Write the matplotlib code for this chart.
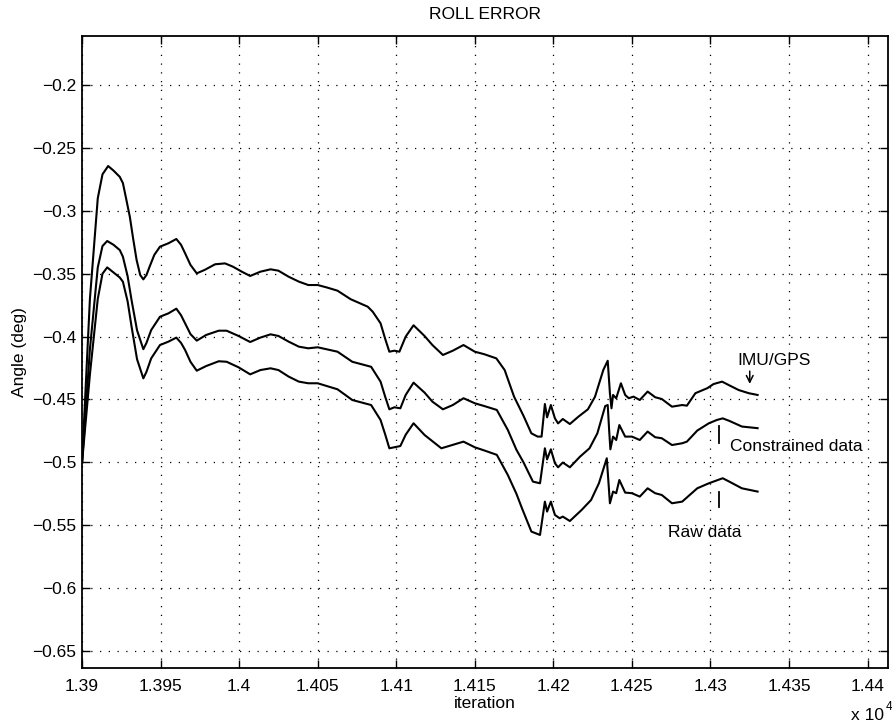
import matplotlib
matplotlib.use("Agg")
import matplotlib.pyplot as plt

plt.rcParams['font.family'] = ['Liberation Sans', 'DejaVu Sans']

# iteration numbers and roll error (deg) for the three solutions
it_imu = [13900, 13905, 13910, 13913, 13916.6, 13920, 13924, 13926, 13928, 13930.4,
          13932.5, 13934.7, 13937, 13939, 13941, 13943, 13946, 13949.6, 13955, 13960,
          13963, 13965.6, 13969, 13973, 13978, 13984.7, 13991, 13996, 14001.7, 14007,
          14013.5, 14020, 14025, 14031.5, 14038, 14044, 14050, 14056, 14062.6, 14071,
          14081.8, 14085, 14090, 14093, 14095.6, 14098.8, 14102, 14106, 14111, 14118,
          14123, 14129.7, 14136, 14142.8, 14150, 14156, 14163.7, 14169, 14175, 14181,
          14186, 14190, 14192.5, 14194.6, 14196, 14198.4, 14201, 14203, 14206, 14210.5,
          14216, 14222, 14226.5, 14231.8, 14234.6, 14236, 14237, 14238, 14240, 14243,
          14245.7, 14248, 14251, 14255, 14260, 14264.8, 14269, 14275.5, 14282, 14285,
          14290.4, 14298, 14302, 14307.4, 14311.6, 14318, 14324.4, 14330]
roll_imu = [-0.5, -0.37, -0.29, -0.271, -0.2644, -0.268, -0.273, -0.278, -0.29, -0.3047,
            -0.322, -0.339, -0.351, -0.3545, -0.351, -0.3444, -0.335, -0.3285, -0.3258, -0.3224,
            -0.327, -0.3338, -0.343, -0.3497, -0.347, -0.3425, -0.3418, -0.3444, -0.3484, -0.3518,
            -0.3484, -0.3465, -0.3476, -0.3524, -0.3563, -0.359, -0.359, -0.361, -0.3635, -0.3703,
            -0.3762, -0.3802, -0.3894, -0.402, -0.412, -0.4112, -0.412, -0.4, -0.391, -0.3995,
            -0.4067, -0.4146, -0.4112, -0.4067, -0.412, -0.414, -0.4173, -0.4266, -0.4478, -0.463,
            -0.4769, -0.4795, -0.4795, -0.4536, -0.4642, -0.4544, -0.465, -0.469, -0.4655, -0.4695,
            -0.4636, -0.4578, -0.4478, -0.4265, -0.4192, -0.4451, -0.457, -0.4464, -0.449, -0.4371,
            -0.4464, -0.449, -0.4477, -0.4504, -0.4437, -0.4482, -0.4496, -0.4557, -0.4544, -0.4549,
            -0.445, -0.441, -0.4377, -0.4358, -0.4385, -0.4425, -0.445, -0.4464]

it_con = [13900, 13905, 13910, 13913, 13916, 13920, 13924, 13926, 13929, 13931.5,
          13935, 13939, 13941, 13944, 13949.6, 13955, 13960, 13963, 13965.6, 13969,
          13973, 13979, 13987, 13992, 13999.6, 14007, 14013.5, 14020, 14025, 14031.5,
          14038, 14044, 14050, 14062.6, 14072, 14084, 14090, 14093, 14095.6, 14098.8,
          14102.6, 14106, 14111, 14118, 14123, 14129.7, 14136, 14142.8, 14150, 14156,
          14164, 14171, 14176.5, 14181, 14187, 14191.5, 14194.6, 14196, 14198.4, 14201,
          14203, 14206, 14210.5, 14217, 14223, 14228, 14233, 14234.6, 14235.5, 14236.3,
          14238, 14240, 14242, 14245.7, 14250, 14255, 14260, 14264.8, 14269, 14275.5,
          14282, 14285, 14291.6, 14299, 14304, 14307.8, 14312, 14320, 14330]
roll_con = [-0.5, -0.41, -0.345, -0.328, -0.324, -0.327, -0.3312, -0.3365, -0.352, -0.371,
            -0.395, -0.41, -0.405, -0.3948, -0.3842, -0.3815, -0.3778, -0.383, -0.3895, -0.398,
            -0.4032, -0.3987, -0.3953, -0.3953, -0.3995, -0.4043, -0.4008, -0.3982, -0.3995, -0.404,
            -0.408, -0.4093, -0.4085, -0.412, -0.42, -0.424, -0.4358, -0.448, -0.4578, -0.4562,
            -0.457, -0.4464, -0.4366, -0.4445, -0.4517, -0.4578, -0.4544, -0.449, -0.453, -0.4552,
            -0.4583, -0.4742, -0.49, -0.5, -0.5153, -0.5166, -0.4888, -0.4976, -0.4896, -0.5007,
            -0.5039, -0.5001, -0.5039, -0.4954, -0.4888, -0.4769, -0.4552, -0.4544, -0.4743, -0.4896,
            -0.4795, -0.4822, -0.4703, -0.4795, -0.4795, -0.4822, -0.4755, -0.48, -0.4808, -0.4862,
            -0.4848, -0.4835, -0.4747, -0.4689, -0.4663, -0.465, -0.467, -0.4715, -0.4728]

it_raw = [13900, 13905, 13910, 13913, 13916, 13920, 13924, 13926, 13929, 13931.5,
          13935, 13939, 13941, 13944, 13949.6, 13955, 13960, 13963, 13965.6, 13969,
          13973, 13979, 13987, 13992, 13999.6, 14007, 14013.5, 14020, 14025, 14031.5,
          14038, 14044, 14050, 14062.6, 14072, 14084, 14090, 14093, 14095.6, 14102.6,
          14106, 14111, 14118, 14128.7, 14142.8, 14150, 14156, 14164, 14171, 14176.5,
          14180, 14186, 14191.5, 14194.6, 14196, 14198.4, 14201, 14204, 14206, 14210.5,
          14218, 14224, 14229, 14234, 14236, 14238, 14240, 14242, 14245.7, 14250,
          14255, 14260, 14264.8, 14269, 14275.5, 14282, 14291.6, 14299, 14307.8, 14312,
          14320, 14330]
roll_raw = [-0.5, -0.43, -0.37, -0.35, -0.345, -0.349, -0.353, -0.3564, -0.372, -0.392,
            -0.418, -0.4332, -0.428, -0.4173, -0.4067, -0.404, -0.4008, -0.405, -0.4107, -0.42,
            -0.4271, -0.4234, -0.4196, -0.42, -0.4244, -0.43, -0.4266, -0.4252, -0.4266, -0.4318,
            -0.4358, -0.4371, -0.4371, -0.4419, -0.4504, -0.4544, -0.4663, -0.478, -0.4888, -0.487,
            -0.478, -0.4689, -0.4782, -0.4888, -0.4835, -0.488, -0.4905, -0.494, -0.51, -0.525,
            -0.5364, -0.555, -0.5577, -0.5312, -0.5391, -0.5312, -0.5418, -0.5444, -0.5431, -0.5466,
            -0.5378, -0.5299, -0.5166, -0.4967, -0.5325, -0.5232, -0.5245, -0.514, -0.524, -0.5245,
            -0.5272, -0.5206, -0.5245, -0.5259, -0.5325, -0.5312, -0.5206, -0.5166, -0.5126, -0.5153,
            -0.5206, -0.5232]

xtick_vals = [13900, 13950, 14000, 14050, 14100, 14150, 14200, 14250, 14300, 14350, 14400]
xtick_labels = ['1.39', '1.395', '1.4', '1.405', '1.41', '1.415', '1.42', '1.425',
                '1.43', '1.435', '1.44']
ytick_vals = [-0.65, -0.6, -0.55, -0.5, -0.45, -0.4, -0.35, -0.3, -0.25, -0.2]
ytick_labels = ['\u22120.65', '\u22120.6', '\u22120.55', '\u22120.5', '\u22120.45',
                '\u22120.4', '\u22120.35', '\u22120.3', '\u22120.25', '\u22120.2']

fig = plt.figure(figsize=(8.92, 7.23), dpi=100)
ax = fig.add_axes([0.092, 0.076, 0.9035, 0.8746])

for xs, ys in [(it_imu, roll_imu), (it_con, roll_con), (it_raw, roll_raw)]:
    ax.plot(xs, ys, color='black', linewidth=1.5)

ax.set_xlim(13900, 14413)
ax.set_ylim(-0.6635, -0.1608)
ax.set_xticks(xtick_vals)
ax.set_xticklabels(xtick_labels)
ax.set_yticks(ytick_vals)
ax.set_yticklabels(ytick_labels)
ax.tick_params(direction='in', length=6, width=1.0, top=True, right=True,
               labelsize=12.5, colors='black')
ax.tick_params(axis='x', pad=8)
ax.tick_params(axis='y', pad=4)
ax.grid(True, color='black', linestyle=(0, (1, 6)), linewidth=0.9)
for sp in ax.spines.values():
    sp.set_linewidth(1.3)

ax.set_title('ROLL ERROR', fontsize=12.5, pad=12)
ax.set_xlabel('iteration', fontsize=12.5, labelpad=1)
ax.set_ylabel('Angle (deg)', fontsize=12.5, labelpad=4)
# x axis multiplier
fig.text(0.991, 1 - 715 / 723, 'x 10', ha='right', va='center', fontsize=12.5)
fig.text(0.9925, 1 - 707 / 723, '4', ha='left', va='center', fontsize=8.5)

# curve labels
ax.text(14317, -0.419, 'IMU/GPS', fontsize=12.5, va='center', ha='left')
ax.annotate('', xy=(14325, -0.4398), xytext=(14325, -0.4252),
            arrowprops=dict(arrowstyle='->', color='black', lw=1.1, mutation_scale=12))
ax.text(14312.7, -0.4875, 'Constrained data', fontsize=12.5, va='center', ha='left')
ax.plot([14305.7, 14305.7], [-0.471, -0.4843], color='black', linewidth=1.3)
ax.text(14273, -0.5559, 'Raw data', fontsize=12.5, va='center', ha='left')
ax.plot([14305.3, 14305.3], [-0.5232, -0.5351], color='black', linewidth=1.3)

fig.savefig('out.png', dpi=100)
